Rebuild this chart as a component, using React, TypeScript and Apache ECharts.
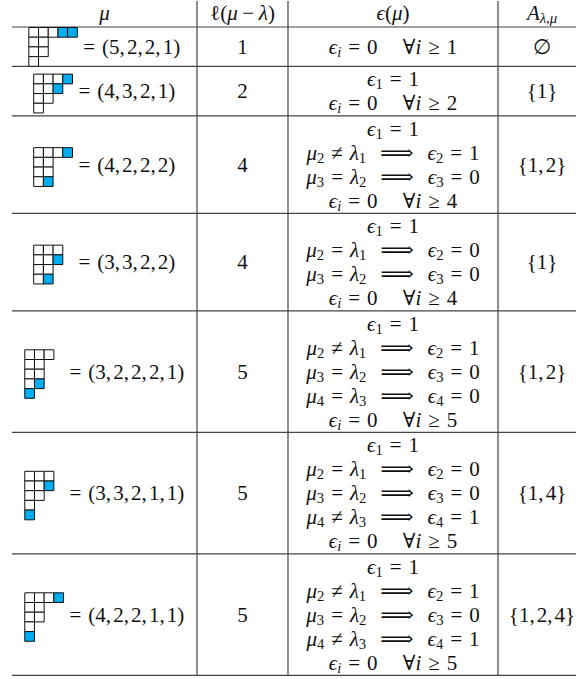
import React, { useEffect, useRef } from "react";
import * as echarts from "echarts";

// ---- data ----
const lambdaShape = [3, 2, 2, 1];
const muShapes = [
  [5, 2, 2, 1],
  [4, 3, 2, 1],
  [4, 2, 2, 2],
  [3, 3, 2, 2],
  [3, 2, 2, 2, 1],
  [3, 3, 2, 1, 1],
  [4, 2, 2, 1, 1],
];
const lengthLabels = ["1", "2", "4", "4", "5", "5", "5"];
const epsilonLines = [
  ["ϵ_i = 0|∀i ≥ 1"],
  ["ϵ_1 = 1", "ϵ_i = 0|∀i ≥ 2"],
  ["ϵ_1 = 1", "μ_2 ≠ λ_1  ⟹  ϵ_2 = 1", "μ_3 = λ_2  ⟹  ϵ_3 = 0", "ϵ_i = 0|∀i ≥ 4"],
  ["ϵ_1 = 1", "μ_2 = λ_1  ⟹  ϵ_2 = 0", "μ_3 = λ_2  ⟹  ϵ_3 = 0", "ϵ_i = 0|∀i ≥ 4"],
  ["ϵ_1 = 1", "μ_2 ≠ λ_1  ⟹  ϵ_2 = 1", "μ_3 = λ_2  ⟹  ϵ_3 = 0", "μ_4 = λ_3  ⟹  ϵ_4 = 0", "ϵ_i = 0|∀i ≥ 5"],
  ["ϵ_1 = 1", "μ_2 = λ_1  ⟹  ϵ_2 = 0", "μ_3 = λ_2  ⟹  ϵ_3 = 0", "μ_4 ≠ λ_3  ⟹  ϵ_4 = 1", "ϵ_i = 0|∀i ≥ 5"],
  ["ϵ_1 = 1", "μ_2 ≠ λ_1  ⟹  ϵ_2 = 1", "μ_3 = λ_2  ⟹  ϵ_3 = 0", "μ_4 ≠ λ_3  ⟹  ϵ_4 = 1", "ϵ_i = 0|∀i ≥ 5"],
];
const aSets = ["∅", "{1}", "{1,2}", "{1}", "{1,2}", "{1,4}", "{1,2,4}"];
const headerLabels = ["μ", "ℓ(μ~−~λ)", "ϵ(μ)", "A_{λ,μ}"];

// ---- style / layout ----
const W = 576;
const H = 679;
const FAMILY = '"Liberation Serif", "DejaVu Serif", serif';
const FS = 21;
const SUB = 0.7;
const SUBDY = 5.2;
const LINE = 24;
const CELL = 9.7;
const COLS = [12, 197, 288, 498, 586];
const HEADER_H = 27;
const TEXT = "#111";
const RULE = "#444";
const BLUE = "#00aeef";
const ARROW = "⟹";
const ARROW_EM = 1.6;
const THICK = 0.33;
const MED = 0.22;
const QUAD = 1.2;

type Seg = { text?: string; italic?: boolean; sub?: boolean; gap?: number };

function parse(s: string): Seg[] {
  const out: Seg[] = [];
  const push = (ch: string, sub: boolean) => {
    if (ch === " ") { out.push({ gap: THICK }); return; }
    if (ch === "~") { out.push({ gap: MED }); return; }
    if (ch === "|") { out.push({ gap: QUAD }); return; }
    if (ch === ARROW) { out.push({ text: ch, italic: false, sub: false }); out.push({ gap: 0 }); return; }
    const italic = /[A-Za-zα-ωϵ]/.test(ch);
    const last = out[out.length - 1];
    if (last && last.text !== undefined && last.text !== ARROW && last.italic === italic && last.sub === sub) last.text += ch;
    else out.push({ text: ch, italic, sub });
    if (ch === "," && !sub) out.push({ gap: 0.1 });
  };
  let i = 0;
  while (i < s.length) {
    const ch = s[i];
    if (ch === "_") {
      if (s[i + 1] === "{") {
        const j = s.indexOf("}", i);
        for (const c of s.slice(i + 2, j)) push(c, true);
        i = j + 1;
      } else {
        push(s[i + 1], true);
        i += 2;
      }
    } else {
      push(ch, false);
      i++;
    }
  }
  return out;
}

let ctx: CanvasRenderingContext2D | null = null;
function rawWidth(seg: Seg): number {
  if (!ctx) ctx = document.createElement("canvas").getContext("2d");
  const size = seg.sub ? FS * SUB : FS;
  ctx!.font = `${seg.italic ? "italic " : ""}${size}px ${FAMILY}`;
  return ctx!.measureText(seg.text || "").width;
}
function segWidth(seg: Seg): number {
  if (seg.gap !== undefined) return seg.gap * FS;
  if (seg.text === ARROW) return ARROW_EM * FS;
  return rawWidth(seg);
}
function lineWidth(str: string): number {
  return parse(str).reduce((a, s) => a + segWidth(s), 0);
}
function drawLine(str: string, left: number, cy: number, out: any[]) {
  let x = left;
  for (const seg of parse(str)) {
    const w = segWidth(seg);
    if (seg.text !== undefined) {
      const el: any = {
        type: "text",
        x,
        y: cy + (seg.sub ? SUBDY : 0),
        silent: true,
        style: {
          text: seg.text,
          fontSize: seg.sub ? FS * SUB : FS,
          fontFamily: FAMILY,
          fontStyle: seg.italic ? "italic" : "normal",
          fill: TEXT,
          align: "left",
          verticalAlign: "middle",
        },
      };
      if (seg.text === ARROW) {
        const rw = rawWidth(seg);
        if (rw > 0) el.scaleX = w / rw;
      }
      out.push(el);
    }
    x += w;
  }
}
function drawCentered(str: string, cx: number, cy: number, out: any[]) {
  drawLine(str, cx - lineWidth(str) / 2, cy, out);
}

function buildOption() {
  const graphics: any[] = [];
  const center = (c: number) => (COLS[c] + COLS[c + 1]) / 2;

  // header
  headerLabels.forEach((h, c) => drawCentered(h, center(c), 13, graphics));

  // rows
  const rowBounds: number[] = [HEADER_H];
  const origins: number[][] = [];
  let top = HEADER_H;
  muShapes.forEach((mu, ri) => {
    const n = epsilonLines[ri].length;
    const h = Math.max(LINE * n + 1.5, mu.length * CELL + 0.5);
    const bottom = top + h;
    const cy = (top + bottom) / 2;

    // column 1: diagram + tuple
    const tuple = "= (" + mu.join(",") + ")";
    const tw = lineWidth(tuple);
    const box = Math.max(mu[0], 4) * CELL;
    const total = box + 6 + tw;
    const left = center(0) - total / 2;
    const dh = mu.length * CELL;
    const dcy = Math.min(cy + 2.5, bottom - dh / 2);
    origins.push([left, dcy - dh / 2]);
    drawLine(tuple, left + box + 6, cy, graphics);

    // column 2
    drawCentered(lengthLabels[ri], center(1), cy, graphics);
    // column 3
    epsilonLines[ri].forEach((ln, k) => {
      drawCentered(ln, center(2), cy + (k - (n - 1) / 2) * LINE, graphics);
    });
    // column 4
    drawCentered(aSets[ri], center(3), cy, graphics);

    top = bottom;
    rowBounds.push(bottom);
  });

  // rules
  rowBounds.forEach((y) => {
    graphics.push({
      type: "line",
      silent: true,
      shape: { x1: COLS[0], y1: y, x2: W, y2: y },
      style: { stroke: RULE, lineWidth: 1.2 },
    });
  });
  [1, 2, 3].forEach((c) => {
    graphics.push({
      type: "line",
      silent: true,
      shape: { x1: COLS[c], y1: 1, x2: COLS[c], y2: rowBounds[rowBounds.length - 1] },
      style: { stroke: RULE, lineWidth: 1.2 },
    });
  });

  // diagram cells data
  const cells: number[][] = [];
  muShapes.forEach((mu, ri) => {
    mu.forEach((len, r) => {
      for (let j = 0; j < len; j++) {
        const skew = r >= lambdaShape.length || j >= lambdaShape[r] ? 1 : 0;
        cells.push([ri, r, j, skew]);
      }
    });
  });

  return {
    animation: false,
    backgroundColor: "#fff",
    graphic: { elements: graphics },
    series: [
      {
        type: "custom",
        coordinateSystem: "none",
        silent: true,
        z: 10,
        data: cells,
        renderItem: (_params: any, api: any) => {
          const ri = api.value(0);
          const r = api.value(1);
          const j = api.value(2);
          const skew = api.value(3);
          const [ox, oy] = origins[ri];
          return {
            type: "rect",
            shape: { x: ox + j * CELL, y: oy + r * CELL, width: CELL, height: CELL },
            style: { fill: skew ? BLUE : "#fff", stroke: "#111", lineWidth: 1 },
          };
        },
      },
    ],
  };
}

export default function App() {
  const ref = useRef<HTMLDivElement>(null);
  useEffect(() => {
    const chart = echarts.init(ref.current!, null, { renderer: "svg" });
    chart.setOption(buildOption() as any);
    return () => chart.dispose();
  }, []);
  return (
    <div
      ref={ref}
      style={{ position: "fixed", left: 0, top: 0, width: W, height: H, background: "#fff" }}
    />
  );
}
